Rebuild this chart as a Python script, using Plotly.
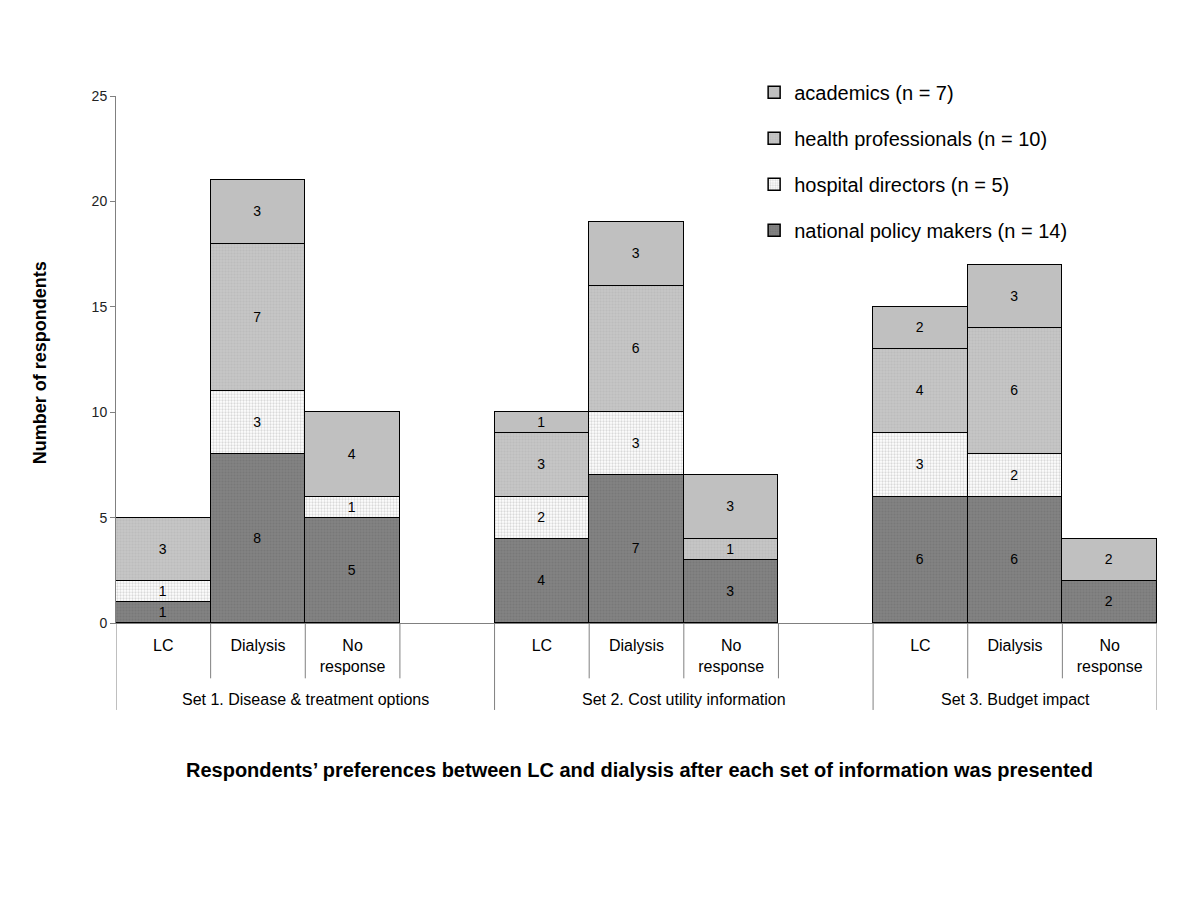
import plotly.graph_objects as go

# ---- data ----
sets = ["Set 1. Disease & treatment options", "Set 2. Cost utility information", "Set 3. Budget impact"]
options = ["LC", "Dialysis", "No<br>response"]

national_policy_makers = [1, 8, 5, 4, 7, 3, 6, 6, 2]
hospital_directors = [1, 3, 1, 2, 3, 0, 3, 2, 0]
health_professionals = [3, 7, 0, 3, 6, 1, 4, 6, 0]
academics = [0, 3, 4, 1, 3, 3, 2, 3, 2]

series_names = ["national policy makers (n = 14)", "hospital directors (n = 5)",
                "health professionals (n = 10)", "academics (n = 7)"]
legend_ranks = [4, 3, 2, 1]

y_ticks = [0, 5, 10, 15, 20, 25]

# ---- layout helpers ----
slots_per_set = 4  # 3 bars + 1 gap slot
xpos = [s * slots_per_set + o for s in range(len(sets)) for o in range(len(options))]
ticktext = [o for s in range(len(sets)) for o in options]

styles = [
    dict(color="#828282", fg="#6e6e6e", shape=".", size=3, sol=0.35),
    dict(color="#ffffff", fg="#b4b4b4", shape=".", size=3, sol=0.45),
    dict(color="#c6c6c6", fg="#b2b2b2", shape=".", size=3, sol=0.4),
    dict(color="#c0c0c0", fg=None, shape="", size=3, sol=0.3),
]

FONT = "Liberation Sans, Arial, sans-serif"

fig = go.Figure()
for name, vals, st, rk in zip(series_names,
                              [national_policy_makers, hospital_directors, health_professionals, academics],
                              styles, legend_ranks):
    pattern = dict(shape=st["shape"], fillmode="overlay", size=st["size"], solidity=st["sol"])
    if st["fg"]:
        pattern["fgcolor"] = st["fg"]
    fig.add_trace(go.Bar(
        x=xpos, y=vals, name=name, legendgroup=name, legendrank=rk,
        width=1,
        marker=dict(color=st["color"], line=dict(color="#000000", width=1.5), pattern=pattern),
        text=[str(v) if v else "" for v in vals],
        textposition="inside", insidetextanchor="middle", textangle=0,
        textfont=dict(family=FONT, size=14, color="#000000"),
        constraintext="none",
    ))

fig.update_layout(
    barmode="stack", bargap=0,
    width=1200, height=900,
    paper_bgcolor="white", plot_bgcolor="white",
    margin=dict(l=108, r=51, t=88, b=285),
    font=dict(family=FONT, size=16, color="#000000"),
    showlegend=True,
    legend=dict(x=0.613, y=1.044, xanchor="left", yanchor="top",
                traceorder="grouped", tracegroupgap=17,
                font=dict(family=FONT, size=20, color="#000000"),
                itemwidth=30, bgcolor="rgba(0,0,0,0)"),
    xaxis=dict(range=[-0.5, len(sets) * slots_per_set - 1.5], tickvals=xpos, ticktext=ticktext,
               showline=True, linecolor="#808080", linewidth=1, ticks="", showgrid=False,
               zeroline=False, ticklabelstandoff=8,
               tickfont=dict(family=FONT, size=16, color="#000000")),
    yaxis=dict(range=[0, 25], tickvals=y_ticks, showline=True, linecolor="#808080", linewidth=1,
               ticks="outside", ticklen=5, tickcolor="#808080", showgrid=False, zeroline=False,
               tickfont=dict(family=FONT, size=14, color="#222222")),
)

# category separators
n_slots = len(sets) * slots_per_set - 1
for b in range(n_slots + 1):
    xb = b - 0.5
    is_group = (b % slots_per_set == 0) or b == n_slots
    fig.add_shape(type="line", xref="x", yref="paper", x0=xb, x1=xb,
                  y0=0, y1=(-0.165 if is_group else -0.105),
                  line=dict(color="#808080", width=1))

# group labels
for s, label in enumerate(sets):
    start = s * slots_per_set - 0.5
    end = min(start + slots_per_set, n_slots - 0.5)
    fig.add_annotation(x=(start + end) / 2, xref="x", y=-0.146, yref="paper",
                       text=label, showarrow=False, yanchor="middle", xanchor="center",
                       font=dict(family=FONT, size=16, color="#000000"))

# axis titles
fig.add_annotation(x=-0.073, xref="paper", y=0.493, yref="paper", text="<b>Number of respondents</b>",
                   textangle=-90, showarrow=False, xanchor="center", yanchor="middle",
                   font=dict(family=FONT, size=18, color="#000000"))
fig.add_annotation(x=0.503, xref="paper", y=-0.279, yref="paper",
                   text="<b>Respondents’ preferences between LC and dialysis after each set of information was presented</b>",
                   showarrow=False, xanchor="center", yanchor="middle",
                   font=dict(family=FONT, size=20, color="#000000"))

fig.write_html("out.html")
